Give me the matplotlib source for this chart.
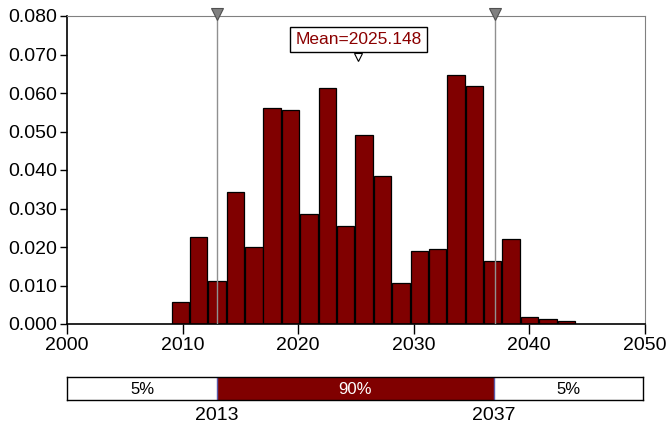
'''
Distribution of year with 90% interval and mean marker
'''
import numpy as np
import matplotlib
matplotlib.use('Agg')
import matplotlib.pyplot as plt

## DATA
bin_start = 2009.0
bin_end   = 2044.0
heights = [0.0056, 0.0225, 0.0111, 0.0343, 0.0199, 0.0560, 0.0555, 0.0286,
           0.0612, 0.0255, 0.0492, 0.0385, 0.0106, 0.0189, 0.0194, 0.0647,
           0.0618, 0.0163, 0.0220, 0.0019, 0.0013, 0.0008]
p_low  = 2013
p_high = 2037
mean_val = 2025.148
pct_labels = ['5%', '90%', '5%']

plt.rcParams['font.family'] = ['Liberation Sans', 'DejaVu Sans']
fs_tick = 14.0
fs_mean = 12.5
fs_pct  = 12.0

W, H = 669., 429.
fig = plt.figure(figsize=(W/100., H/100.), dpi=100)

xmin = 2000; xmax = 2050; ymin = 0.0; ymax = 0.080
ax = fig.add_axes([67.1/W, 1-324/H, 577.7/W, 308/H])

nb = len(heights)
edges = np.linspace(bin_start, bin_end, nb+1)
binw = edges[1] - edges[0]
ax.bar(edges[:-1] + 0.04, heights, width=binw - 0.08, align='edge',
       color='#800000', edgecolor='black', linewidth=0.9, zorder=2)

## percentile lines with markers at top
for xv in (p_low, p_high):
    ax.axvline(xv, color='#909090', lw=1.0, zorder=3)
    ax.plot(xv, ymax + 0.0004, marker='v', ms=8, color='#808080',
            mec='#505050', mew=0.8, clip_on=False, zorder=5)

## mean marker and label
ax.plot(mean_val, 0.0693, marker='v', ms=6, color='white', mec='black',
        mew=0.8, zorder=5)
ax.text(mean_val + 0.1, 0.0739, 'Mean=%.3f' % mean_val, color='#8b0000',
        fontsize=fs_mean, ha='center', va='center', zorder=6,
        bbox=dict(boxstyle='square,pad=0.3', fc='white', ec='black', lw=1.0))

ax.set_xlim((xmin, xmax))
ax.set_ylim((ymin, ymax))
ax.set_xticks(np.arange(2000, 2051, 10))
ax.set_yticks(np.arange(0, 0.0801, 0.01))
ax.set_yticklabels(['%.3f' % v for v in np.arange(0, 0.0801, 0.01)])
ax.tick_params('x', direction='out', length=7, width=1, pad=2, labelsize=fs_tick)
ax.tick_params('y', direction='out', length=5, width=1, pad=2, labelsize=fs_tick)
for s in ('top', 'right'):
    ax.spines[s].set_color('#808080')
for s in ('left', 'bottom'):
    ax.spines[s].set_color('black')
    ax.spines[s].set_linewidth(1.2)

## bottom interval bar
ax2 = fig.add_axes([67.3/W, 1-399.7/H, 576/W, 22.7/H])
ax2.barh(0.5, p_low - xmin, left=xmin, height=1.0, color='white')
ax2.barh(0.5, p_high - p_low, left=p_low, height=1.0, color='#800000')
ax2.barh(0.5, xmax - p_high, left=p_high, height=1.0, color='white')
for xv in (p_low, p_high):
    ax2.axvline(xv, color='#5a5aa8', lw=1.0)
ax2.text((xmin + p_low)/2., 0.45, pct_labels[0], ha='center', va='center', fontsize=fs_pct, color='black')
ax2.text((p_low + p_high)/2., 0.45, pct_labels[1], ha='center', va='center', fontsize=fs_pct, color='white')
ax2.text((p_high + xmax)/2., 0.45, pct_labels[2], ha='center', va='center', fontsize=fs_pct, color='black')
ax2.text(p_low, -0.32, str(p_low), ha='center', va='top', fontsize=fs_tick)
ax2.text(p_high, -0.32, str(p_high), ha='center', va='top', fontsize=fs_tick)
ax2.set_xlim((xmin, xmax))
ax2.set_ylim((0, 1))
ax2.set_xticks([])
ax2.set_yticks([])
for s in ax2.spines.values():
    s.set_color('black')
    s.set_linewidth(1.0)

plt.savefig('out.png', format='png', dpi=100)
plt.close(fig)
